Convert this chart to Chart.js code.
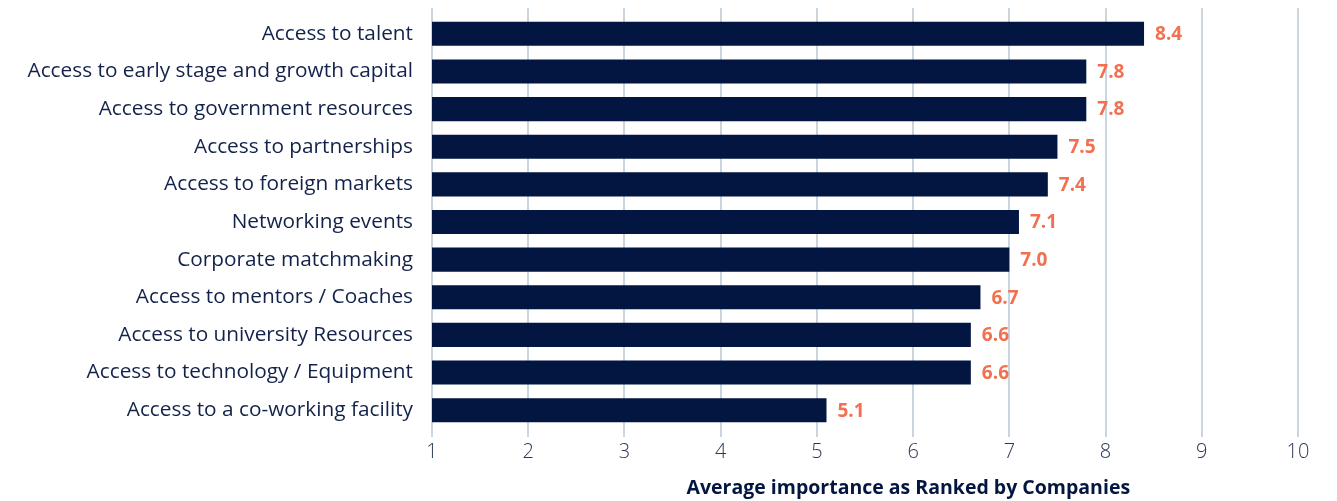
<!DOCTYPE html>
<html>
<head>
<meta charset="utf-8">
<script src="https://cdn.jsdelivr.net/npm/chart.js@4.4.1/dist/chart.umd.min.js"></script>
<style>
  html, body { margin: 0; padding: 0; background: #ffffff; }
  #wrap { width: 1337px; height: 501px; position: relative; }
</style>
</head>
<body>
<div id="wrap"><canvas id="chart"></canvas></div>
<script>
// Support types, ordered by average importance
const categories = [
  'Access to talent',
  'Access to early stage and growth capital',
  'Access to government resources',
  'Access to partnerships',
  'Access to foreign markets',
  'Networking events',
  'Corporate matchmaking',
  'Access to mentors / Coaches',
  'Access to university Resources',
  'Access to technology / Equipment',
  'Access to a co-working facility'
];
const importance = [8.4, 7.8, 7.8, 7.5, 7.4, 7.1, 7.0, 6.7, 6.6, 6.6, 5.1];
const xTicks = [1, 2, 3, 4, 5, 6, 7, 8, 9, 10];
const axisTitle = 'Average importance as Ranked by Companies';

const NAVY = '#031641';
const TEXT = '#13224a';
const ORANGE = '#f2704f';
const GRID = '#c9d6df';
const FONT = "'Open Sans', 'Noto Sans', sans-serif";

// Value labels at the end of each bar
const valueLabels = {
  id: 'valueLabels',
  afterDatasetsDraw(chart) {
    const ctx = chart.ctx;
    const meta = chart.getDatasetMeta(0);
    ctx.save();
    ctx.font = "bold 19px " + FONT;
    ctx.fillStyle = ORANGE;
    ctx.textAlign = 'left';
    ctx.textBaseline = 'middle';
    meta.data.forEach((bar, i) => {
      ctx.fillText(importance[i].toFixed(1), bar.x + 11, bar.y + 1);
    });
    ctx.restore();
  }
};

// Gridlines run a little above the plot area; axis title sits under the ticks
const extras = {
  id: 'extras',
  beforeDatasetsDraw(chart) {
    const ctx = chart.ctx;
    const x = chart.scales.x;
    const top = chart.chartArea.top;
    ctx.save();
    ctx.strokeStyle = GRID;
    ctx.lineWidth = 2;
    xTicks.forEach(v => {
      const px = Math.round(x.getPixelForValue(v));
      ctx.beginPath();
      ctx.moveTo(px, top - 7);
      ctx.lineTo(px, top);
      ctx.stroke();
    });
    ctx.restore();
  },
  afterDraw(chart) {
    const ctx = chart.ctx;
    const x = chart.scales.x;
    ctx.save();
    ctx.font = "bold 19.5px " + FONT;
    ctx.fillStyle = NAVY;
    ctx.textAlign = 'center';
    ctx.textBaseline = 'middle';
    ctx.fillText(axisTitle, x.getPixelForValue(5.95), 488);
    ctx.restore();
  }
};

new Chart(document.getElementById('chart'), {
  type: 'bar',
  data: {
    labels: categories,
    datasets: [{
      data: importance,
      backgroundColor: NAVY,
      borderWidth: 0,
      barPercentage: 0.64,
      categoryPercentage: 1.0
    }]
  },
  options: {
    indexAxis: 'y',
    responsive: true,
    maintainAspectRatio: false,
    animation: false,
    layout: { padding: { top: 15, right: 39, left: 0, bottom: 0 } },
    plugins: {
      legend: { display: false },
      tooltip: { enabled: false }
    },
    scales: {
      x: {
        type: 'linear',
        min: 1,
        max: 10,
        afterBuildTicks(scale) { scale.ticks = xTicks.map(v => ({ value: v })); },
        afterFit(scale) { scale.height = 72; },
        border: { display: false },
        grid: {
          color: GRID,
          lineWidth: 2,
          drawTicks: true,
          tickLength: 8
        },
        ticks: {
          color: '#2b3756',
          font: { family: FONT, size: 20, weight: '300' },
          padding: 3,
          maxRotation: 0
        }
      },
      y: {
        afterFit(scale) {
          scale.width = 432;
          scale.paddingTop = 0;
          scale.paddingBottom = 0;
        },
        border: { display: false },
        grid: { display: false, drawTicks: false },
        ticks: {
          color: TEXT,
          font: { family: FONT, size: 20.8 },
          padding: 19,
          crossAlign: 'near'
        }
      }
    }
  },
  plugins: [valueLabels, extras]
});
</script>
</body>
</html>
